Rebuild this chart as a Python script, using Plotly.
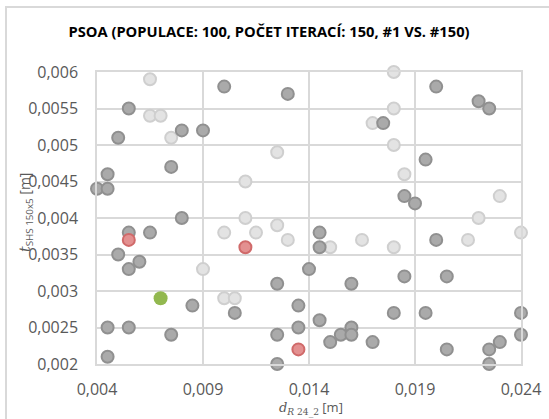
import plotly.graph_objects as go

# Population #1 (dark grey) and population #150 (light grey)
pop1_x = [0.0055, 0.010, 0.008, 0.009, 0.005, 0.0075, 0.0045, 0.004, 0.0045, 0.008,
          0.013, 0.0175, 0.020, 0.022, 0.0225, 0.0195, 0.0185, 0.019, 0.0055, 0.0065,
          0.005, 0.006, 0.0055, 0.0085, 0.0105, 0.0045, 0.0055, 0.0075, 0.0045, 0.0145,
          0.0145, 0.014, 0.0125, 0.016, 0.0135, 0.0145, 0.0135, 0.016, 0.0125, 0.0155,
          0.016, 0.015, 0.017, 0.0125, 0.018, 0.020, 0.0185, 0.0205, 0.0195, 0.024,
          0.024, 0.023, 0.0225, 0.0205, 0.0225]
pop1_y = [0.0055, 0.0058, 0.0052, 0.0052, 0.0051, 0.0047, 0.0046, 0.0044, 0.0044, 0.0040,
          0.0057, 0.0053, 0.0058, 0.0056, 0.0055, 0.0048, 0.0043, 0.0042, 0.0038, 0.0038,
          0.0035, 0.0034, 0.0033, 0.0028, 0.0027, 0.0025, 0.0025, 0.0024, 0.0021, 0.0038,
          0.0036, 0.0033, 0.0031, 0.0031, 0.0028, 0.0026, 0.0025, 0.0025, 0.0024, 0.0024,
          0.0024, 0.0023, 0.0023, 0.0020, 0.0027, 0.0037, 0.0032, 0.0032, 0.0027, 0.0027,
          0.0024, 0.0023, 0.0022, 0.0022, 0.0020]

pop150_x = [0.0065, 0.0065, 0.007, 0.0075, 0.018, 0.017, 0.0125, 0.011, 0.011, 0.018,
            0.018, 0.0185, 0.023, 0.022, 0.010, 0.009, 0.010, 0.0105, 0.0125, 0.0115,
            0.0165, 0.013, 0.015, 0.018, 0.024, 0.0215]
pop150_y = [0.0059, 0.0054, 0.0054, 0.0051, 0.0060, 0.0053, 0.0049, 0.0045, 0.0040, 0.0055,
            0.0050, 0.0046, 0.0043, 0.0040, 0.0038, 0.0033, 0.0029, 0.0029, 0.0039, 0.0038,
            0.0037, 0.0037, 0.0036, 0.0036, 0.0038, 0.0037]

# Highlighted solutions
red_x = [0.0055, 0.011, 0.0135]
red_y = [0.0037, 0.0036, 0.0022]
best_x = [0.007]
best_y = [0.0029]

x_ticks = [0.004, 0.009, 0.014, 0.019, 0.024]
x_tick_text = ["0,004", "0,009", "0,014", "0,019", "0,024"]
y_ticks = [0.002, 0.0025, 0.003, 0.0035, 0.004, 0.0045, 0.005, 0.0055, 0.006]
y_tick_text = ["0,002", "0,0025", "0,003", "0,0035", "0,004", "0,0045", "0,005", "0,0055", "0,006"]

FONT = "Open Sans"
GRID = "#d9d9d9"

fig = go.Figure()


def add_points(xs, ys, fill, edge, size=12, lw=2, name=None):
    fig.add_trace(go.Scatter(
        x=xs, y=ys, mode="markers", name=name, showlegend=False,
        cliponaxis=False,
        marker=dict(size=size, color=fill,
                    line=dict(color=edge, width=lw)),
    ))


add_points(pop150_x, pop150_y, "#e3e3e3", "#cfcfcf", name="#150")
add_points(pop1_x, pop1_y, "#aaaaaa", "#909090", name="#1")
add_points(red_x, red_y, "#e39090", "#d06a6a", name="red")
add_points(best_x, best_y, "#92b84f", "#92b84f", size=14, lw=0, name="best")

axis_common = dict(
    showgrid=True, gridcolor=GRID, gridwidth=1.5,
    showline=True, linecolor=GRID, linewidth=1.5, mirror=True,
    zeroline=False, ticks="", automargin=False,
    tickfont=dict(family=FONT, size=16, color="#595959"),
)

fig.update_xaxes(range=[0.004, 0.024], tickvals=x_ticks, ticktext=x_tick_text,
                 ticklabelstandoff=10, **axis_common)
fig.update_yaxes(range=[0.002, 0.006], tickvals=y_ticks, ticktext=y_tick_text,
                 ticklabelstandoff=14, **axis_common)

pw, ph = 424, 292
fig.update_layout(
    width=549, height=419,
    margin=dict(l=97, r=28, t=72, b=55),
    paper_bgcolor="white", plot_bgcolor="white",
    title=dict(text="<b>PSOA (POPULACE: 100, POČET ITERACÍ: 150, #1 VS. #150)</b>",
               x=269 / 549, xanchor="center", y=1 - 32 / 419, yanchor="middle",
               font=dict(family=FONT, size=14.7, color="#000000")),
    shapes=[dict(type="rect", xref="paper", yref="paper",
                 x0=(6 - 97) / pw, x1=(560 - 97) / pw,
                 y0=(364 - 430) / ph, y1=(364 - 7) / ph,
                 line=dict(color=GRID, width=2), layer="below")],
    annotations=[
        dict(text="<span style='font-family:DejaVu Serif'><i>d</i><sub><i>R</i> 24_2</sub></span> [m]",
             xref="paper", yref="paper", x=(311 - 97) / pw, y=(364 - 408) / ph,
             xanchor="center", yanchor="middle", showarrow=False,
             font=dict(family=FONT, size=13, color="#595959")),
        dict(text="<span style='font-family:DejaVu Serif'><i>t</i></span><sub>SHS 150x5</sub> [m]",
             xref="paper", yref="paper", x=(25 - 97) / pw, y=(364 - 213) / ph,
             xanchor="center", yanchor="middle", textangle=-90, showarrow=False,
             font=dict(family=FONT, size=14, color="#595959")),
    ],
)

fig.write_html("out.html")
